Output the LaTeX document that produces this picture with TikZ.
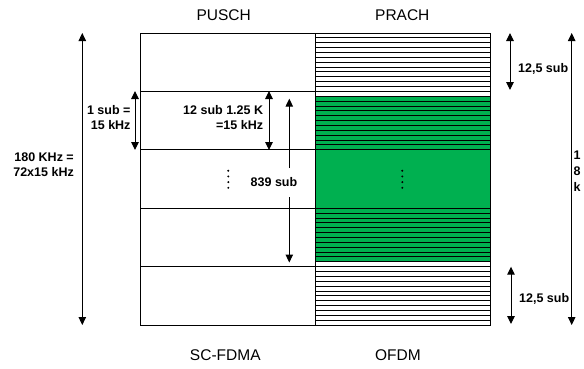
\documentclass[tikz,border=0pt]{standalone}
\usepackage{fontspec}
\setmainfont{Liberation Sans}
\usetikzlibrary{arrows.meta}
\definecolor{prachgreen}{RGB}{0,176,80}
\begin{document}
\begin{tikzpicture}[x=1pt,y=-1pt,
  frame/.style={line width=1pt,black},
  stripe/.style={line width=0.8pt,black},
  dim/.style={line width=1pt,{Triangle[width=7.5pt,length=8pt]}-{Triangle[width=7.5pt,length=8pt]}},
  dimend/.style={line width=1pt,-{Triangle[width=7.5pt,length=8pt]}},
  title/.style={font=\fontsize{15.5}{18}\selectfont, inner sep=0pt},
  lbl/.style={font=\bfseries\fontsize{12.5}{15}\selectfont, inner sep=0pt},
]
\useasboundingbox (0,0) rectangle (584,368);
% green region of PRACH
\fill[prachgreen] (315.3,96.3) rectangle (490.3,261.7);
% stripes
\foreach \k in {0,...,12} { \draw[stripe] (315.3,{33+\k*4.85}) -- (490.3,{33+\k*4.85}); }
\foreach \k in {0,...,11} { \draw[stripe] (315.3,{96.3+\k*4.85}) -- (490.3,{96.3+\k*4.85}); }
\foreach \k in {0,...,11} { \draw[stripe] (315.3,{208.3+\k*4.85}) -- (490.3,{208.3+\k*4.85}); }
\foreach \k in {0,...,12} { \draw[stripe] (315.3,{266.7+\k*4.86}) -- (490.3,{266.7+\k*4.86}); }
% frame
\draw[frame] (140.3,33) rectangle (490.3,325);
\draw[frame] (315.3,33) -- (315.3,325);
\foreach \y in {91,149.7,208.3,266.3} { \draw[frame] (140.3,\y) -- (315.3,\y); }
% dots
\foreach \y in {170.7,176.4,182.1,187.8} {
  \fill (228.3,\y) circle[radius=1.1pt];
  \fill (402.3,\y) circle[radius=1.1pt];
}
% titles
\node[title,anchor=base] (pusch) at (223.7,20.6) {PUSCH};
\node[title,anchor=base] (prach) at (402.3,20.6) {PRACH};
\node[title,anchor=base] (scfdma) at (225.3,360.9) {SC-FDMA};
\node[title,anchor=base] (ofdm) at (398,360.9) {OFDM};
% labels
\node[lbl,align=right,anchor=east] (lbig) at (74,164.2) {180 KHz =\\72x15 kHz};
\node[lbl,align=right,anchor=east] (lsub) at (130.7,117.5) {1 sub =\\15 kHz};
\node[lbl,align=right,anchor=east] (l12) at (263.3,117.5) {12 sub 1.25 K\\=15 kHz};
\node[lbl] (l839) at (274,181.7) {839 sub};
\node[lbl,anchor=west] (ltop) at (518,69) {12,5 sub};
\node[lbl,anchor=west] (lbot) at (519,299) {12,5 sub};
\node[lbl,align=left,anchor=west,font=\bfseries\fontsize{12.5}{16}\selectfont] (lright) at (573.3,171) {1\\8\\k};
% dimension arrows
\coordinate (bigT) at (82.3,33);   \coordinate (bigB) at (82.3,325);
\coordinate (subT) at (135,91);    \coordinate (subB) at (135,150);
\coordinate (twT) at (269,91);     \coordinate (twB) at (269,150);
\coordinate (sT) at (289.3,98.7);  \coordinate (sB) at (289.3,262.5);
\coordinate (sM1) at (289.3,168);  \coordinate (sM2) at (289.3,197);
\coordinate (rtT) at (510,33);     \coordinate (rtB) at (510,90);
\coordinate (rbT) at (511,266.7);  \coordinate (rbB) at (511,324);
\coordinate (rfT) at (571.7,33);   \coordinate (rfB) at (571.7,325);
\draw[dim] (bigT) -- (bigB);
\draw[dim] (subT) -- (subB);
\draw[dim] (twT) -- (twB);
\draw[dimend] (sM1) -- (sT);
\draw[dimend] (sM2) -- (sB);
\draw[dim] (rtT) -- (rtB);
\draw[dim] (rbT) -- (rbB);
\draw[dim] (rfT) -- (rfB);
\end{tikzpicture}
\end{document}
